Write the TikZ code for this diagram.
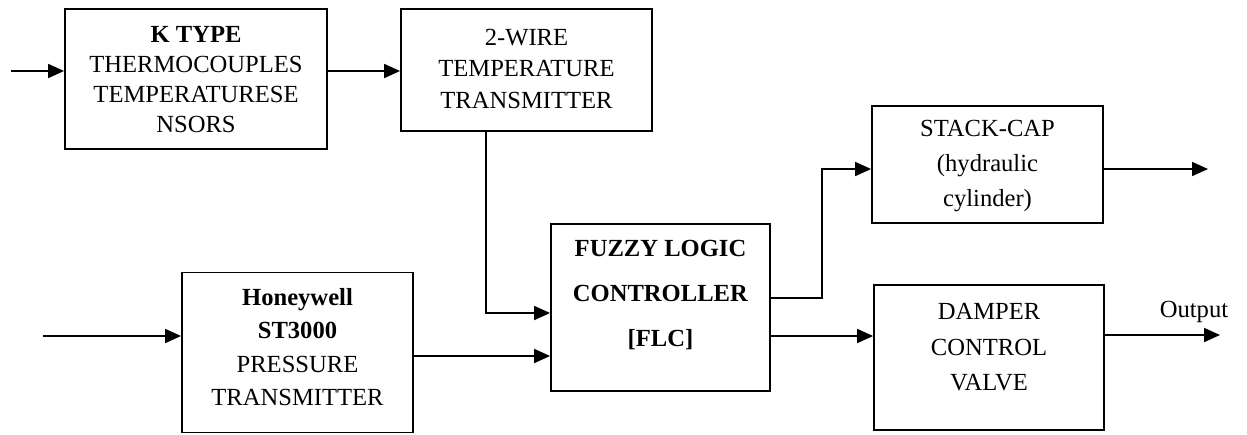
\documentclass[tikz,border=0pt]{standalone}
\usepackage{fontspec}
\setmainfont{Liberation Serif}
\usetikzlibrary{arrows.meta}
\begin{document}
\begin{tikzpicture}[x=1pt,y=-1pt,
  box/.style={draw,line width=1.8pt,inner sep=0pt},
  txt/.style={align=center,inner sep=0pt,font=\fontsize{24.6pt}{#1}\selectfont},
  arr/.style={line width=1.8pt,-{Triangle[length=16pt,width=14pt]}}]
\useasboundingbox (0,0) rectangle (1247,434);
\fill[white] (0,0) rectangle (1247,434);

% boxes
\node[box,minimum width=262pt,minimum height=140pt] (K) at (196,79) {};
\node[txt=30pt] (Kt) at (196,80) {\textbf{K TYPE}\\THERMOCOUPLES\\TEMPERATURESE\\NSORS};

\node[box,minimum width=251pt,minimum height=122pt] (W) at (526.5,70) {};
\node[txt=31.5pt] (Wt) at (526.5,68.5) {2-WIRE\\TEMPERATURE\\TRANSMITTER};

\node[box,minimum width=231pt,minimum height=117pt] (S) at (987.5,164.5) {};
\node[txt=35pt] (St) at (987.5,166) {STACK-CAP\\(hydraulic\\cylinder)};

\node[box,minimum width=219pt,minimum height=167pt] (F) at (660.5,307.5) {};
\node[txt=45pt] (Ft) at (660.5,295) {\textbf{FUZZY LOGIC}\\\textbf{CONTROLLER}\\\textbf{[FLC]}};

\node[box,minimum width=231pt,minimum height=160pt] (H) at (297.5,352.5) {};
\node[txt=33.3pt] (Ht) at (297.5,347) {\textbf{Honeywell}\\\textbf{ST3000}\\PRESSURE\\TRANSMITTER};

\node[box,minimum width=230pt,minimum height=145pt] (D) at (989,357.5) {};
\node[txt=35.5pt] (Dt) at (989,347.5) {DAMPER\\CONTROL\\VALVE};

% helper coordinates
\coordinate (in1) at (11,71);
\coordinate (in2) at (43,336);
\coordinate (c1) at (486,313);
\coordinate (c2) at (0,356);
\coordinate (c3) at (822,298);
\coordinate (c4) at (0,169);
\coordinate (c5) at (0,336);
\coordinate (o1) at (1208,169);
\coordinate (o2) at (1220,335);

% connectors
\draw[arr] (in1) -- (in1 -| K.west);
\draw[arr] (K.east |- in1) -- (W.west |- in1);
\draw[arr] (W.south -| c1) |- (F.west |- c1);
\draw[arr] (in2) -- (in2 -| H.west);
\draw[arr] (H.east |- c2) -- (F.west |- c2);
\draw[arr] (F.east |- c3) -- (c3) |- (S.west |- c4);
\draw[arr] (S.east |- c4) -- (o1);
\draw[arr] (F.east |- c5) -- (D.west |- c5);
\draw[arr] (D.east |- o2) -- (o2);
\node[txt=30pt] (out) at (1194,312) {Output};
\end{tikzpicture}
\end{document}
